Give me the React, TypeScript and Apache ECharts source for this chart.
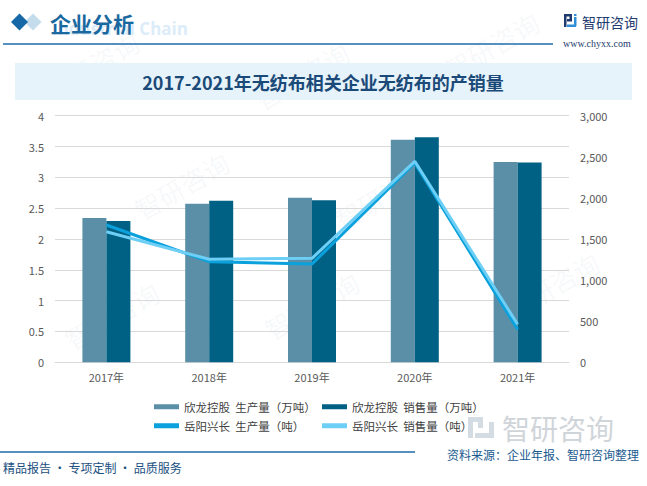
import React, { useEffect, useRef } from "react";
import * as echarts from "echarts";

const categories = ["2017年", "2018年", "2019年", "2020年", "2021年"];
const xlProduction = [2.34, 2.57, 2.67, 3.61, 3.25];
const xlSales = [2.29, 2.62, 2.63, 3.65, 3.24];
const yyProduction = [1670, 1224, 1196, 2425, 401];
const yySales = [1589, 1253, 1265, 2445, 462];
const seriesNames = [
  "欣龙控股  生产量（万吨）",
  "欣龙控股  销售量（万吨）",
  "岳阳兴长  生产量（吨）",
  "岳阳兴长  销售量（吨）",
];
const chartTitle = "2017-2021年无纺布相关企业无纺布的产销量";
const headerText = "企业分析";
const sourceText = "资料来源：企业年报、智研咨询整理";
const footerText = "精品报告 · 专项定制 · 品质服务";

const FONT = "'Noto Sans CJK SC', 'Noto Sans', sans-serif";

export default function App() {
  const ref = useRef<HTMLDivElement>(null);
  useEffect(() => {
    if (!ref.current) return;
    const chart = echarts.init(ref.current, null, { renderer: "svg" });
    const legendItem = (name: string, left: number, top: number) => ({
      data: [name],
      left,
      top,
      icon: "rect",
      itemWidth: 25,
      itemHeight: 5,
      itemGap: 0,
      padding: 0,
      textStyle: { fontSize: 11.5, color: "#404040", fontFamily: FONT },
    });
    const watermark = (x: number, y: number) => ({
      type: "text",
      x,
      y,
      rotation: Math.PI / 6,
      silent: true,
      z: -5,
      style: {
        text: "智研咨询",
        fontSize: 26,
        fontFamily: FONT,
        fill: "rgba(120,150,180,0.07)",
      },
    });
    chart.setOption({
      animation: false,
      backgroundColor: "#ffffff",
      textStyle: { fontFamily: FONT },
      grid: { left: 55, right: 78, top: 115.7, bottom: 123.7 },
      legend: [
        legendItem(seriesNames[0], 154, 401),
        legendItem(seriesNames[1], 322, 401),
        legendItem(seriesNames[2], 154, 420),
        legendItem(seriesNames[3], 322, 420),
      ],
      xAxis: {
        type: "category",
        data: categories,
        axisLine: { show: true, lineStyle: { color: "#d9d9d9" } },
        axisTick: { show: false },
        axisLabel: { fontSize: 11, color: "#595959", margin: 9 },
      },
      yAxis: [
        {
          type: "value",
          min: 0,
          max: 4,
          interval: 0.5,
          axisLine: { show: false },
          axisTick: { show: false },
          axisLabel: { fontSize: 11, color: "#595959", margin: 11 },
          splitLine: { lineStyle: { color: "#d9d9d9" } },
        },
        {
          type: "value",
          min: 0,
          max: 3000,
          interval: 500,
          axisLine: { show: false },
          axisTick: { show: false },
          axisLabel: {
            fontSize: 11,
            color: "#595959",
            margin: 11,
            formatter: (v: number) => v.toLocaleString("en-US"),
          },
          splitLine: { show: false },
        },
      ],
      series: [
        {
          name: seriesNames[0],
          type: "bar",
          data: xlProduction,
          barWidth: 24,
          barGap: "0%",
          itemStyle: { color: "#5b8fa8" },
        },
        {
          name: seriesNames[1],
          type: "bar",
          data: xlSales,
          barWidth: 24,
          barGap: "0%",
          itemStyle: { color: "#006184" },
        },
        {
          name: seriesNames[2],
          type: "line",
          yAxisIndex: 1,
          data: yyProduction,
          symbol: "none",
          lineStyle: { width: 3, color: "#0aa1dc" },
          itemStyle: { color: "#0aa1dc" },
          z: 3,
        },
        {
          name: seriesNames[3],
          type: "line",
          yAxisIndex: 1,
          data: yySales,
          symbol: "none",
          lineStyle: { width: 3, color: "#6dcff6" },
          itemStyle: { color: "#6dcff6" },
          z: 4,
        },
      ],
      graphic: [
        watermark(40, 80),
        watermark(250, 90),
        watermark(440, 60),
        watermark(130, 200),
        watermark(330, 210),
        watermark(60, 330),
        watermark(260, 320),
        watermark(500, 300),
        // header
        {
          type: "polygon",
          shape: { points: [[33, 13.5], [41.5, 22], [33, 30.5], [24.5, 22]] },
          style: { fill: "#c5dcec" },
        },
        {
          type: "polygon",
          shape: { points: [[19.5, 13.5], [28, 22], [19.5, 30.5], [11, 22]] },
          style: { fill: "#1768a6" },
        },
        {
          type: "text",
          x: 52,
          y: 28,
          silent: true,
          style: {
            text: "Industrial Chain",
            fontSize: 17,
            fontWeight: "bold",
            fontFamily: "'Open Sans', sans-serif",
            fill: "#dcecf8",
            verticalAlign: "middle",
          },
        },
        {
          type: "text",
          x: 50,
          y: 23,
          style: {
            text: headerText,
            fontSize: 21,
            fontWeight: "bold",
            fontFamily: FONT,
            fill: "#1a68a0",
            verticalAlign: "middle",
          },
        },
        {
          type: "line",
          shape: { x1: 3, y1: 44, x2: 553, y2: 44 },
          style: { stroke: "#1f6cab", lineWidth: 1.5 },
        },
        // logo
        {
          type: "group",
          x: 564,
          y: 14,
          children: [
            { type: "rect", shape: { x: 0, y: 0, width: 8, height: 2.5 }, style: { fill: "#1e3a6e" } },
            { type: "rect", shape: { x: 0, y: 0, width: 2.5, height: 13 }, style: { fill: "#1e3a6e" } },
            { type: "rect", shape: { x: 5.5, y: 0, width: 2.5, height: 7 }, style: { fill: "#1e3a6e" } },
            { type: "rect", shape: { x: 3, y: 5, width: 5, height: 2.5 }, style: { fill: "#1e3a6e" } },
            { type: "rect", shape: { x: 3, y: 10.5, width: 9, height: 2.5 }, style: { fill: "#2f8fd8" } },
            { type: "rect", shape: { x: 10, y: 3, width: 2.5, height: 9 }, style: { fill: "#2f8fd8" } },
            { type: "rect", shape: { x: 10, y: 0, width: 2.5, height: 2 }, style: { fill: "#2f8fd8" } },
          ],
        },
        {
          type: "text",
          x: 582,
          y: 22,
          style: {
            text: "智研咨询",
            fontSize: 14,
            fontFamily: FONT,
            fill: "#1e3a6e",
            verticalAlign: "middle",
          },
        },
        {
          type: "text",
          x: 563,
          y: 43,
          style: {
            text: "www.chyxx.com",
            fontSize: 10,
            fontFamily: "'Liberation Serif', serif",
            fill: "#1e3a6e",
            verticalAlign: "middle",
          },
        },
        // title box
        {
          type: "rect",
          shape: { x: 15, y: 63, width: 617, height: 37 },
          style: { fill: "#e6f3fb" },
          z: -1,
        },
        {
          type: "text",
          x: 323,
          y: 82,
          style: {
            text: chartTitle,
            fontSize: 18,
            fontWeight: "bold",
            fontFamily: FONT,
            fill: "#1b4a78",
            align: "center",
            verticalAlign: "middle",
          },
        },
        // bottom-right watermark
        {
          type: "group",
          x: 468,
          y: 417,
          silent: true,
          z: -2,
          children: [
            { type: "rect", shape: { x: 0, y: 0, width: 15, height: 5 }, style: { fill: "#d3dbe3" } },
            { type: "rect", shape: { x: 0, y: 0, width: 5, height: 21 }, style: { fill: "#d3dbe3" } },
            { type: "rect", shape: { x: 10, y: 0, width: 5, height: 11 }, style: { fill: "#d3dbe3" } },
            { type: "rect", shape: { x: 7, y: 16, width: 19, height: 5 }, style: { fill: "#d3dbe3" } },
            { type: "rect", shape: { x: 21, y: 5, width: 5, height: 13 }, style: { fill: "#d3dbe3" } },
          ],
        },
        {
          type: "text",
          x: 502,
          y: 428,
          silent: true,
          z: -2,
          style: {
            text: "智研咨询",
            fontSize: 28,
            fontFamily: FONT,
            fill: "#d0d5da",
            verticalAlign: "middle",
          },
        },
        // footer
        {
          type: "line",
          shape: { x1: 0, y1: 452, x2: 415, y2: 452 },
          style: { stroke: "#1f6cab", lineWidth: 1.5 },
        },
        {
          type: "text",
          x: 639,
          y: 454,
          style: {
            text: sourceText,
            fontSize: 12,
            fontFamily: FONT,
            fill: "#1a5a8f",
            align: "right",
            verticalAlign: "middle",
          },
        },
        {
          type: "text",
          x: 3,
          y: 467,
          style: {
            text: footerText,
            fontSize: 12,
            fontFamily: FONT,
            fill: "#1a4f80",
            verticalAlign: "middle",
          },
        },
      ],
    });
    return () => chart.dispose();
  }, []);
  return (
    <div
      ref={ref}
      style={{ position: "absolute", left: 0, top: 0, width: 647, height: 486 }}
    />
  );
}
